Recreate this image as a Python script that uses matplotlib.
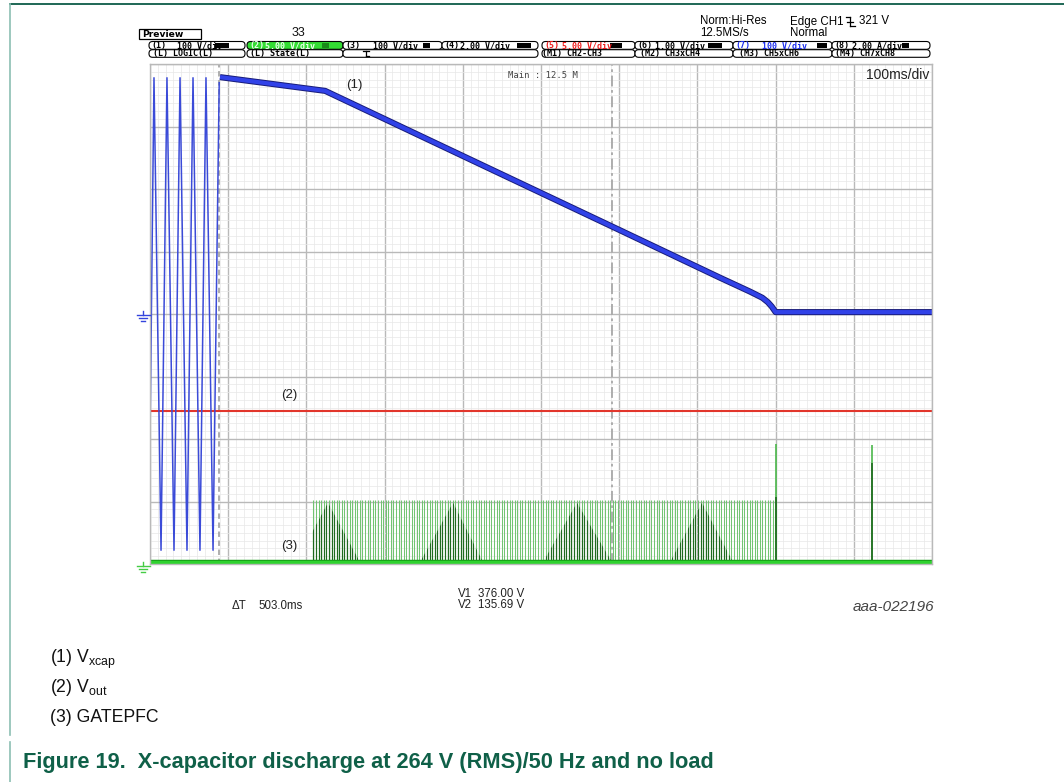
import numpy as np
import matplotlib
matplotlib.use("Agg")
import matplotlib.pyplot as plt
from matplotlib.patches import FancyBboxPatch, Rectangle, PathPatch
from matplotlib.lines import Line2D
from matplotlib.collections import LineCollection
from matplotlib.path import Path
from matplotlib.transforms import Affine2D
from matplotlib.ticker import MultipleLocator
import matplotlib.patheffects as pe

plt.rcParams['font.family'] = ['Liberation Sans', 'DejaVu Sans']
plt.rcParams['mathtext.fontset'] = 'custom'
plt.rcParams['mathtext.rm'] = 'Liberation Sans'
plt.rcParams['mathtext.it'] = 'Liberation Sans:italic'

W, H = 1064, 782

# ---------------- data ----------------
vxcap_v_per_div = 100.0          # CH7, 100 V/div

# mains voltage before unplugging (ms, V) - peaks and troughs of the trace
sine_t = [0, 5.1, 14.1, 21.7, 30.7, 38.4, 47.3, 55.0, 63.9, 71.6, 80.6, 88.5]
sine_v = [-200, 378, -378, 378, -378, 378, -378, 378, -378, 378, -378, 370]

# X-cap discharge (ms, V)
dis_t = [89.5, 224, 601, 729, 767, 783, 790, 795, 800, 1000]
dis_v = [379, 357, 134, 58, 36, 26, 19, 12, 3, 3]

# Vout trace (divisions)
vout_t = [0, 1000]
vout_div = [-1.55, -1.55]

# GATEPFC trace (divisions)
gate_base_div = -3.97
gate_pulse_start_ms = 209
gate_pulse_end_ms = 798
gate_pulse_period_ms = 3.3
gate_pulse_height_div = 1.0
hump_t = [[186.7, 227.6, 268.5], [345.3, 387.5, 425.8],
          [502.6, 546.0, 590.8], [664.9, 705.9, 745.5]]
hump_h = [0.0, 0.95, 0.0]
spike_t = [800, 923]
spike_h_light = [1.89, 1.87]
spike_h_dark = [1.04, 1.58]

cursor_t = [88, 591]

# header labels
row1_num = ['(1)', '(2)', '(3)', '(4)', '(5)', '(6)', '(7)', '(8)']
row1_txt = ['100 V/div', '5.00 V/div', '100 V/div', '2.00 V/div',
            '5.00 V/div', '1.00 V/div', '100 V/div', '2.00 A/div']
row2_txt = ['(L) LOGIC(L)', '(L) State(L)', '', '(M1) CH2-CH3',
            '(M2) CH3xCH4', '(M3) CH5xCH6', '(M4) CH7xCH8']

# ---------------- figure ----------------
fig = plt.figure(figsize=(W / 100, H / 100), dpi=100, facecolor='white')
PX = Affine2D().scale(1 / W, -1 / H).translate(0, 1) + fig.transFigure

# borders of the document frame
fig.add_artist(Line2D([10, W], [4, 4], transform=PX, color='#0d5c48', lw=1.3))
fig.add_artist(Line2D([10, 10], [4, 735], transform=PX, color='#8cbfb3', lw=1.2))
fig.add_artist(Line2D([10, 10], [742, H], transform=PX, color='#8cbfb3', lw=1.2))

# ---------------- scope screen ----------------
ax = fig.add_axes([150 / W, 1 - 564 / H, (932 - 150) / W, 500 / H])
ax.set_xlim(0, 1000)
ax.set_ylim(-4, 4)
ax.xaxis.set_major_locator(MultipleLocator(100))
ax.xaxis.set_minor_locator(MultipleLocator(10))
ax.yaxis.set_major_locator(MultipleLocator(1))
ax.yaxis.set_minor_locator(MultipleLocator(0.125))
ax.grid(which='minor', color='#e8e8e8', lw=0.5)
ax.grid(which='major', color='#b9b9b9', lw=1.0)
ax.set_axisbelow(True)
ax.tick_params(which='both', length=0, labelbottom=False, labelleft=False)
for s in ax.spines.values():
    s.set_color('#b9b9b9')
    s.set_linewidth(1.0)

# cursors
ax.axvline(cursor_t[0], color='#a8a8a8', lw=1.3, ls=(0, (3, 2)))
ax.axvline(cursor_t[1], color='#a8a8a8', lw=1.3, ls=(0, (6, 2, 1.5, 2)))

# Vout (red)
ax.plot(vout_t, vout_div, color='#e2362c', lw=1.5, solid_capstyle='butt')

# GATEPFC
pulses = np.arange(gate_pulse_start_ms, gate_pulse_end_ms, gate_pulse_period_ms)
segs = [[(t, gate_base_div), (t, gate_base_div + gate_pulse_height_div)] for t in pulses]
ax.add_collection(LineCollection(segs, colors='#72c472', linewidths=0.75))
dark = LineCollection([[(t, gate_base_div), (t, gate_base_div + 1.0)] for t in pulses],
                      colors='#1f6a1f', linewidths=0.85)
hump_paths = [Path([(ht[i], gate_base_div + hump_h[i]) for i in range(3)] +
                   [(ht[0], gate_base_div)], closed=True) for ht in hump_t]
clip = PathPatch(Path.make_compound_path(*hump_paths), transform=ax.transData,
                 fc='none', ec='none')
ax.add_collection(dark)
dark.set_clip_path(clip)
ax.vlines(spike_t, gate_base_div, [gate_base_div + h for h in spike_h_light],
          color='#4cb84c', lw=1.2)
ax.vlines(spike_t, gate_base_div, [gate_base_div + h for h in spike_h_dark],
          color='#1f6a1f', lw=1.2)
ax.plot([0, 1000], [gate_base_div, gate_base_div], color='#2fd22f', lw=2.4,
        solid_capstyle='butt',
        path_effects=[pe.Stroke(linewidth=3.2, foreground='#169a16'), pe.Normal()])

# Vxcap (blue)
ax.plot(sine_t, np.array(sine_v) / vxcap_v_per_div, color='#3b4bd8', lw=1.1)
ax.plot(dis_t, np.array(dis_v) / vxcap_v_per_div, color='#3142e8', lw=3.0,
        solid_capstyle='butt',
        path_effects=[pe.Stroke(linewidth=4.4, foreground='#181c7a'), pe.Normal()])

# trace labels
for lbl, (x, y) in zip(['(1)', '(2)', '(3)'], [(354, 85), (289, 395), (289, 546)]):
    fig.text(x, y, lbl, transform=PX, ha='center', va='center', fontsize=9.5, color='#222')

fig.text(508, 76, 'Main : 12.5 M', transform=PX, ha='left', va='center',
         fontsize=6.4, family='DejaVu Sans Mono', color='#444')
fig.text(929, 75, '100ms/div', transform=PX, ha='right', va='center',
         fontsize=10, color='#222')

# ground markers
def ground(x, y, col):
    for (x0, x1, yy) in [(137, 150, y), (139, 147, y + 3), (141, 145, y + 6)]:
        fig.add_artist(Line2D([x0, x1], [yy, yy], transform=PX, color=col, lw=1.0))
    fig.add_artist(Line2D([x, x], [y - 4, y], transform=PX, color=col, lw=1.0))

ground(143, 315, '#3344dd')
ground(143, 566, '#44cc44')

# ---------------- header ----------------
fig.add_artist(Rectangle((139, 29), 62, 10, transform=PX, fc='white', ec='black', lw=0.9))
fig.text(142, 34.5, 'Preview', transform=PX, ha='left', va='center', fontsize=6.6,
         weight='bold', family='DejaVu Sans')
fig.text(298, 33, '33', transform=PX, ha='center', va='center', fontsize=9, color='#111')
fig.text(700, 21.5, 'Norm:Hi-Res', transform=PX, ha='left', va='center', fontsize=8.3)
fig.text(700, 33, '12.5MS/s', transform=PX, ha='left', va='center', fontsize=8.3)
fig.text(790, 21.5, 'Edge CH1', transform=PX, ha='left', va='center', fontsize=8.3)
fig.text(859, 21.5, '321 V', transform=PX, ha='left', va='center', fontsize=8.3)
fig.text(790, 33, 'Normal', transform=PX, ha='left', va='center', fontsize=8.3)
for xs, ys in [([846, 850], [17, 17]), ([850, 850], [17, 26]), ([850, 855], [26, 26]),
               ([847, 853], [22, 22])]:
    fig.add_artist(Line2D(xs, ys, transform=PX, color='black', lw=0.9))

row1_x = [(149, 245), (247, 343), (343, 442), (442, 538),
          (542, 635), (635, 733), (733, 832), (832, 930)]
row1_tx = [177, 265, 373, 460, 562, 655, 762, 852]
row1_icon = [(215, 229), (322, 329), (423, 430), (517, 531),
             (610, 622), (708, 722), (817, 827), (902, 909)]
row1_col = ['black', '#eaffea', 'black', 'black', '#ee1c1c', 'black', '#1d2ff0', 'black']
row1_fc = ['white', '#33dd33', 'white', 'white', 'white', 'white', 'white', 'white']

mono = dict(family='DejaVu Sans Mono', weight='bold', fontsize=6.0)

for (x0, x1), num, txt, tx, (i0, i1), col, fc in zip(row1_x, row1_num, row1_txt, row1_tx,
                                                     row1_icon, row1_col, row1_fc):
    fig.add_artist(FancyBboxPatch((x0, 41.5), x1 - x0, 7.8, transform=PX,
                                  boxstyle='round,pad=0,rounding_size=3.6',
                                  fc=fc, ec='black', lw=0.8))
    fig.text(x0 + 2, 45.6, num, transform=PX, ha='left', va='center', color=col, **mono)
    fig.text(tx, 45.6, txt, transform=PX, ha='left', va='center', color=col, **mono)
    fig.add_artist(Rectangle((i0, 43), i1 - i0, 5, transform=PX,
                             fc='black' if fc == 'white' else '#1a8a1a', ec='none'))

row2_x = [(149, 245), (247, 343), (343, 538), (542, 635), (635, 733), (733, 832), (832, 930)]
row2_tx = [151, 248, 363, 540, 638, 737, 833]
for (x0, x1), txt, tx in zip(row2_x, row2_txt, row2_tx):
    fig.add_artist(FancyBboxPatch((x0, 49.7), x1 - x0, 7.6, transform=PX,
                                  boxstyle='round,pad=0,rounding_size=3.6',
                                  fc='white', ec='black', lw=0.8))
    if txt:
        fig.text(tx + 2, 53.6, txt, transform=PX, ha='left', va='center', color='black', **mono)
for xs, ys in [([363, 369], [51, 51]), ([366, 366], [51, 56]), ([366, 369], [56, 56])]:
    fig.add_artist(Line2D(xs, ys, transform=PX, color='black', lw=0.9))

# ---------------- bottom readouts ----------------
fig.text(232, 606, 'ΔT', transform=PX, ha='left', va='center', fontsize=8.3, color='#222')
fig.text(258, 606, '503.0ms', transform=PX, ha='left', va='center', fontsize=8.3, color='#222')
fig.text(458, 594, 'V1', transform=PX, ha='left', va='center', fontsize=8.3, color='#222')
fig.text(478, 594, '376.00 V', transform=PX, ha='left', va='center', fontsize=8.3, color='#222')
fig.text(458, 605, 'V2', transform=PX, ha='left', va='center', fontsize=8.3, color='#222')
fig.text(478, 605, '135.69 V', transform=PX, ha='left', va='center', fontsize=8.3, color='#222')
fig.text(934, 607, 'aaa-022196', transform=PX, ha='right', va='center', fontsize=11,
         style='italic', color='#444')

# legend
legend_lines = [r'(1) V$_\mathregular{xcap}$', r'(2) V$_\mathregular{out}$', '(3) GATEPFC']
for txt, yb in zip(legend_lines, [663, 692, 722]):
    fig.text(50, yb, txt, transform=PX, ha='left', va='baseline', fontsize=12.7, color='#111')

fig.text(23, 768, 'Figure 19.  X-capacitor discharge at 264 V (RMS)/50 Hz and no load',
         transform=PX, ha='left', va='baseline', fontsize=15.7, weight='bold', color='#0f6048')

fig.savefig('out.png', dpi=100, facecolor='white')
